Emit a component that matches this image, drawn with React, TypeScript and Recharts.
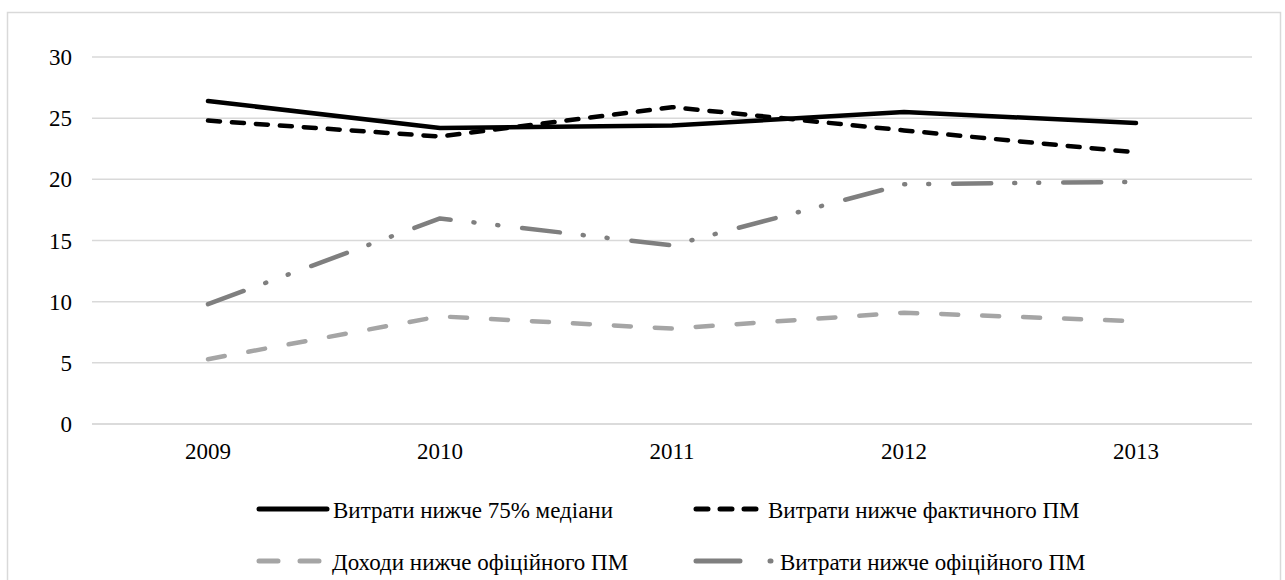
import React from 'react';
import { LineChart, Line, XAxis, YAxis, CartesianGrid } from 'recharts';

const years = ['2009', '2010', '2011', '2012', '2013'];
const below75Median = [26.4, 24.2, 24.4, 25.5, 24.6];
const belowActualPM = [24.8, 23.5, 25.9, 24.0, 22.2];
const incomeBelowOfficialPM = [5.3, 8.8, 7.8, 9.1, 8.4];
const spendingBelowOfficialPM = [9.8, 16.8, 14.6, 19.6, 19.8];
const yTicks = [0, 5, 10, 15, 20, 25, 30];

const seriesNames = [
  'Витрати нижче 75% медіани',
  'Витрати нижче фактичного ПМ',
  'Доходи нижче офіційного ПМ',
  'Витрати нижче офіційного ПМ',
];

const data = years.map((y, i) => ({
  year: y,
  s0: below75Median[i],
  s1: belowActualPM[i],
  s2: incomeBelowOfficialPM[i],
  s3: spendingBelowOfficialPM[i],
}));

const FONT = 'Liberation Serif, Tinos, Times New Roman, DejaVu Serif, serif';

const series = [
  { key: 's0', color: '#000000', dash: undefined as string | undefined },
  { key: 's1', color: '#000000', dash: '12 12' },
  { key: 's2', color: '#a5a5a5', dash: '17 24' },
  { key: 's3', color: '#7f7f7f', dash: '38 23 1 23 1 24' },
];

const tickStyle = { fill: '#000', fontSize: 23, fontFamily: FONT, style: { fontFamily: FONT } } as any;

export default function App() {
  return (
    <div style={{ position: 'absolute', left: 0, top: 0, width: 1285, height: 580, background: '#fff', overflow: 'hidden', fontFamily: FONT }}>
      <svg width={1285} height={580} style={{ position: 'absolute', left: 0, top: 0 }}>
        <rect x={7.5} y={12.5} width={1273} height={620} fill="none" stroke="#d9d9d9" strokeWidth={1.5} />
      </svg>
      <div style={{ position: 'absolute', left: 0, top: 0 }}>
        <LineChart width={1285} height={580} data={data} margin={{ top: 57, right: 33, bottom: 116, left: 0 }}>
          <CartesianGrid vertical={false} stroke="#d9d9d9" strokeWidth={1.5} />
          <XAxis
            dataKey="year"
            height={40}
            padding={{ left: 116, right: 116 }}
            tickSize={0}
            tickMargin={19}
            axisLine={{ stroke: '#d9d9d9', strokeWidth: 1.5 }}
            tick={tickStyle}
          />
          <YAxis
            width={92}
            domain={[0, 30]}
            ticks={yTicks}
            tickSize={0}
            tickMargin={20}
            axisLine={false}
            tickLine={false}
            tick={tickStyle}
          />
          {series.map((s, i) => (
            <Line
              key={s.key}
              dataKey={s.key}
              name={seriesNames[i]}
              stroke={s.color}
              strokeWidth={4.5}
              strokeDasharray={s.dash}
              strokeLinecap="round"
              strokeLinejoin="round"
              dot={false}
              activeDot={false}
              isAnimationActive={false}
            />
          ))}
        </LineChart>
      </div>
      <svg width={1285} height={580} style={{ position: 'absolute', left: 0, top: 0, pointerEvents: 'none' }}>
        <g strokeLinecap="round" strokeWidth={5} fill="none">
          <line x1={259} y1={509} x2={327} y2={509} stroke={series[0].color} />
          <line x1={696} y1={509} x2={758} y2={509} stroke={series[1].color} strokeDasharray="12 12" />
          <line x1={259} y1={561} x2={321} y2={561} stroke={series[2].color} strokeDasharray="19 22" />
          <line x1={696} y1={561} x2={775} y2={561} stroke={series[3].color} strokeDasharray="44 30 1 100" />
        </g>
        <g style={{ fontFamily: FONT }} fontSize={23} fill="#000" dominantBaseline="central">
          <text x={333} y={510}>{seriesNames[0]}</text>
          <text x={768} y={510}>{seriesNames[1]}</text>
          <text x={332} y={562}>{seriesNames[2]}</text>
          <text x={780} y={562}>{seriesNames[3]}</text>
        </g>
      </svg>
    </div>
  );
}
